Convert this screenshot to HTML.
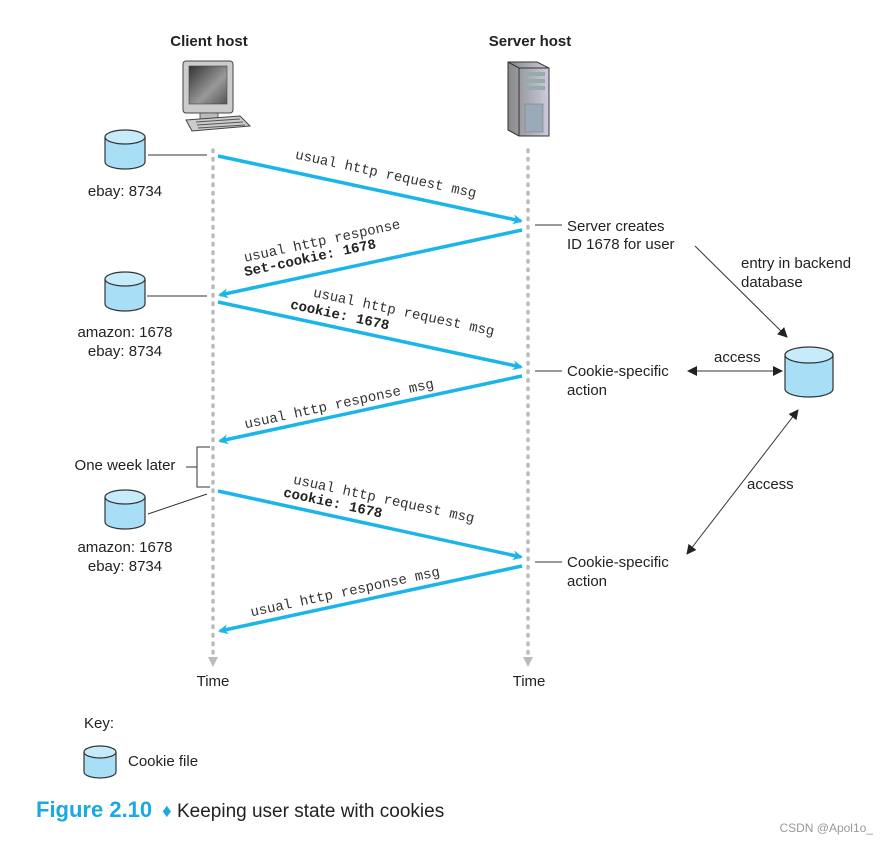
<!DOCTYPE html>
<html><head><meta charset="utf-8"><style>
html,body{margin:0;padding:0;background:#fff;}
svg{display:block;}
.s{font-family:"Liberation Sans",sans-serif;font-size:15px;fill:#222;}
.m{font-family:"Liberation Mono",monospace;font-size:14px;fill:#333;}
.mb{font-family:"Liberation Mono",monospace;font-size:14px;font-weight:bold;fill:#222;}
</style></head><body>
<svg width="887" height="843" viewBox="0 0 887 843" xmlns="http://www.w3.org/2000/svg">
<defs>
<marker id="ab" markerWidth="10" markerHeight="10" refX="8" refY="5" orient="auto" markerUnits="userSpaceOnUse">
<path d="M0,0 L10,5 L0,10 L3,5 Z" fill="#1cb5ea"/></marker>
<marker id="ak" markerWidth="10" markerHeight="10" refX="9" refY="5" orient="auto-start-reverse" markerUnits="userSpaceOnUse">
<path d="M0,0 L10,5 L0,10 Z" fill="#222"/></marker>
<linearGradient id="scr" x1="0" y1="0" x2="1" y2="1"><stop offset="0" stop-color="#333"/><stop offset="0.6" stop-color="#999"/><stop offset="1" stop-color="#555"/></linearGradient>
<linearGradient id="srv" x1="0" y1="0" x2="1" y2="0"><stop offset="0" stop-color="#888"/><stop offset="1" stop-color="#ccd"/></linearGradient>
</defs>
<text class="s" x="209" y="46" text-anchor="middle" font-weight="bold">Client host</text>
<text class="s" x="530" y="46" text-anchor="middle" font-weight="bold">Server host</text>
<!-- computer -->
<rect x="183" y="61" width="50" height="52" rx="3" fill="#ccc" stroke="#444"/>
<rect x="189" y="66" width="38" height="38" fill="url(#scr)" stroke="#444" stroke-width="0.6"/>
<rect x="200" y="113" width="18" height="6" fill="#bbb" stroke="#444" stroke-width="0.8"/>
<path d="M186,120 L240,116 L250,126 L192,131 Z" fill="#ccc" stroke="#444"/>
<path d="M196,122 L240,119 M197,125 L243,122 M198,128 L245,125" stroke="#555" stroke-width="1"/>
<!-- server -->
<path d="M508,62 L537,62 L549,68 L549,136 L519,136 L508,130 Z" fill="url(#srv)" stroke="#333"/>
<path d="M519,68 L549,68 M519,68 L519,136 M508,62 L519,68" stroke="#333" fill="none"/>
<rect x="523" y="72" width="22" height="4" fill="#9aa"/><rect x="523" y="79" width="22" height="4" fill="#9aa"/><rect x="523" y="86" width="22" height="4" fill="#9aa"/>
<rect x="525" y="104" width="18" height="28" fill="#9ab" stroke="#777" stroke-width="0.5"/>
<!-- timelines -->
<line x1="213" y1="150" x2="213" y2="654" stroke="#bbb" stroke-width="3.5" stroke-dasharray="1.5,7" stroke-linecap="round"/>
<line x1="528" y1="150" x2="528" y2="654" stroke="#bbb" stroke-width="3.5" stroke-dasharray="1.5,7" stroke-linecap="round"/>
<path d="M208,657 L218,657 L213,667 Z" fill="#bbb"/>
<path d="M523,657 L533,657 L528,667 Z" fill="#bbb"/>
<text class="s" x="213" y="686" text-anchor="middle">Time</text>
<text class="s" x="529" y="686" text-anchor="middle">Time</text>
<!-- blue arrows -->
<g stroke="#1cb5ea" stroke-width="3.5" marker-end="url(#ab)">
<line x1="218" y1="156" x2="521" y2="221"/>
<line x1="522" y1="230" x2="220" y2="295"/>
<line x1="218" y1="302" x2="521" y2="367"/>
<line x1="522" y1="376" x2="220" y2="441"/>
<line x1="218" y1="491" x2="521" y2="557"/>
<line x1="522" y1="566" x2="220" y2="631"/>
</g>
<text class="m" transform="rotate(12.2 385 178)" x="385" y="178" text-anchor="middle">usual http request msg</text>
<text class="m" transform="rotate(-12.2 323 245)" x="323" y="245" text-anchor="middle">usual http response</text>
<text class="mb" transform="rotate(-12.2 311 262)" x="311" y="262" text-anchor="middle">Set-cookie: 1678</text>
<text class="m" transform="rotate(12.2 403 316)" x="403" y="316" text-anchor="middle">usual http request msg</text>
<text class="mb" transform="rotate(12.2 339 319)" x="339" y="319" text-anchor="middle">cookie: 1678</text>
<text class="m" transform="rotate(-12.2 340 408)" x="340" y="408" text-anchor="middle">usual http response msg</text>
<text class="m" transform="rotate(12.2 383 503)" x="383" y="503" text-anchor="middle">usual http request msg</text>
<text class="mb" transform="rotate(12.2 332 507)" x="332" y="507" text-anchor="middle">cookie: 1678</text>
<text class="m" transform="rotate(-12.2 346 596)" x="346" y="596" text-anchor="middle">usual http response msg</text>
<!-- cylinders -->
<g stroke="#333" stroke-width="1.2">
<path d="M105,137 V162 A20,7 0 0 0 145,162 V137 Z" fill="#a9def7"/><ellipse cx="125" cy="137" rx="20" ry="7" fill="#c6ebfb"/>
<path d="M105,279 V304 A20,7 0 0 0 145,304 V279 Z" fill="#a9def7"/><ellipse cx="125" cy="279" rx="20" ry="7" fill="#c6ebfb"/>
<path d="M105,497 V522 A20,7 0 0 0 145,522 V497 Z" fill="#a9def7"/><ellipse cx="125" cy="497" rx="20" ry="7" fill="#c6ebfb"/>
<path d="M785,355 V389 A24,8 0 0 0 833,389 V355 Z" fill="#a9def7"/><ellipse cx="809" cy="355" rx="24" ry="8" fill="#c6ebfb"/>
<path d="M84,752 V772 A16,6 0 0 0 116,772 V752 Z" fill="#a9def7"/><ellipse cx="100" cy="752" rx="16" ry="6" fill="#c6ebfb"/>
</g>
<text class="s" x="125" y="196" text-anchor="middle">ebay: 8734</text>
<text class="s" x="125" y="337" text-anchor="middle">amazon: 1678</text>
<text class="s" x="125" y="356" text-anchor="middle">ebay: 8734</text>
<text class="s" x="125" y="552" text-anchor="middle">amazon: 1678</text>
<text class="s" x="125" y="571" text-anchor="middle">ebay: 8734</text>
<!-- connectors -->
<g stroke="#333" stroke-width="1" fill="none">
<line x1="148" y1="155" x2="207" y2="155"/>
<line x1="147" y1="296" x2="207" y2="296"/>
<line x1="148" y1="514" x2="207" y2="494"/>
<path d="M210,447 H197 V487 H210 M186,467 H197"/>
<line x1="535" y1="225" x2="562" y2="225"/>
<line x1="535" y1="371" x2="562" y2="371"/>
<line x1="535" y1="562" x2="562" y2="562"/>
<line x1="695" y1="246" x2="787" y2="337" marker-end="url(#ak)"/>
<line x1="688" y1="371" x2="782" y2="371" marker-start="url(#ak)" marker-end="url(#ak)"/>
<line x1="687" y1="554" x2="798" y2="410" marker-start="url(#ak)" marker-end="url(#ak)"/>
</g>
<text class="s" x="125" y="470" text-anchor="middle">One week later</text>
<text class="s" x="567" y="231">Server creates</text>
<text class="s" x="567" y="249">ID 1678 for user</text>
<text class="s" x="741" y="268">entry in backend</text>
<text class="s" x="741" y="287">database</text>
<text class="s" x="714" y="362">access</text>
<text class="s" x="567" y="376">Cookie-specific</text>
<text class="s" x="567" y="395">action</text>
<text class="s" x="747" y="489">access</text>
<text class="s" x="567" y="567">Cookie-specific</text>
<text class="s" x="567" y="586">action</text>
<text class="s" x="84" y="728">Key:</text>
<text class="s" x="128" y="766" font-size="13">Cookie file</text>
<text x="36" y="817" font-family="Liberation Sans,sans-serif" font-size="22" font-weight="bold" fill="#1aa9e3">Figure 2.10</text>
<text x="162" y="817" font-family="Liberation Sans,sans-serif" font-size="19" fill="#222"><tspan fill="#1aa9e3">♦</tspan> Keeping user state with cookies</text>
<text x="873" y="832" text-anchor="end" font-family="Liberation Sans,sans-serif" font-size="12" fill="#999">CSDN @Apol1o_</text>
</svg>
</body></html>
